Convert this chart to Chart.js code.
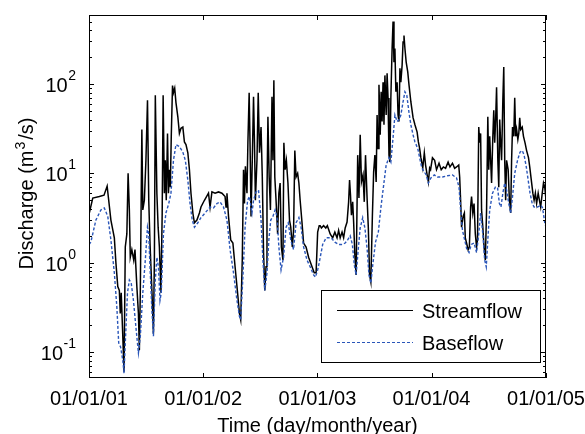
<!DOCTYPE html>
<html>
<head>
<meta charset="utf-8">
<script src="https://cdn.jsdelivr.net/npm/chart.js@4.4.1/dist/chart.umd.min.js"></script>
<style>
  html, body { margin: 0; padding: 0; background: #fff; }
  canvas { display: block; }
</style>
</head>
<body>
<canvas id="c" width="585" height="434"></canvas>
<script>
// ---- data (day since 01/01/01, discharge m3/s) ----
const streamflowPts = [
  [1,3.6],[12,5.3],[33,5.5],[48,5.7],[58,7.2],[63,5.0],[70,3.0],[81,1.9],[86,1.0],[92,0.54],[97,0.49],[100,0.27],
  [103,0.46],[108,0.15],[112,0.06],[116,1.5],[121,2.1],[125,10],[129,3.9],[132,1.15],[137,1.4],[143,1.07],[147,1.4],
  [153,0.54],[158,0.27],[161,0.105],[164,0.46],[169,31],[172,3.9],[177,5],[182,14],[187,66],[191,5],[195,1.66],
  [201,0.49],[206,0.16],[209,1.07],[212,75],[217,6],[221,2.5],[225,1.5],[230,0.46],[234,3.6],[237,75],[241,6],
  [244,14],[247,5],[251,28],[254,6],[257,11],[260,7],[263,26],[267,96],[270,80],[274,90],[278,62],[284,43],[289,28],
  [294,32],[300,33],[305,22.5],[310,21],[316,17],[321,11],[326,6],[332,3.6],[337,2.8],[345,3.0],[353,3.6],[358,4.2],
  [369,5.0],[382,6],[387,4.2],[393,6.2],[403,6],[414,6.2],[425,6],[435,5.5],[438,4.2],[441,6],[446,3.3],[453,1.8],
  [460,1.66],[467,0.9],[475,0.46],[481,0.27],[485,0.23],[490,1.07],[494,11],[497,4.6],[500,12],[505,6],[508,22],
  [512,80],[515,20],[518,3.3],[522,14],[526,72],[529,22],[532,5],[537,14],[541,80],[545,17],[550,33],[554,9.1],
  [558,1.3],[562,0.49],[566,0.9],[569,6],[572,43],[576,9.1],[580,3.9],[585,72],[588,14],[591,110],[594,9.1],[598,5],
  [603,2.1],[607,6],[611,7.8],[615,1.5],[620,1.07],[623,22],[627,11],[631,14],[636,7.8],[641,3.0],[645,2.5],[650,1.5],
  [654,2.3],[658,18],[662,9.1],[667,10],[671,7.8],[675,5],[681,2.8],[686,1.66],[694,1.5],[702,1.15],[713,0.9],
  [720,0.77],[726,0.77],[731,2.2],[736,2.6],[739,2.6],[743,2.45],[750,2.6],[757,2.45],[762,2.6],[771,2.1],[779,1.9],
  [786,2.2],[793,1.9],[798,2.3],[803,1.9],[809,2.2],[814,1.9],[819,2.45],[825,2.85],[830,4.8],[833,8.4],[836,5.7],
  [839,3.4],[843,4.8],[846,2.85],[850,1.2],[854,0.73],[859,16],[863,5.3],[867,27],[871,8],[876,9.6],[880,4.8],
  [884,16],[889,5.3],[893,2.45],[897,0.73],[901,0.61],[906,3.4],[910,10.4],[914,16],[918,8],[921,45],[924,19],
  [927,98],[931,27],[934,82],[937,38],[940,105],[943,35],[946,125],[950,45],[953,132],[956,70],[959,16],[962,13.4],
  [965,70],[969,250],[972,500],[975,176],[978,250],[981,82],[985,105],[988,45],[991,38],[994,150],[997,105],
  [1001,163],[1004,295],[1007,350],[1010,250],[1014,176],[1019,137],[1023,98],[1029,63],[1036,42],[1042,35],
  [1049,29],[1053,22.5],[1057,19],[1061,15],[1067,11.5],[1072,17],[1076,12.4],[1081,9.6],[1085,8],[1089,11.5],
  [1092,11],[1098,15],[1105,14],[1111,11],[1119,13],[1126,11],[1133,11.8],[1140,11.4],[1148,13.4],[1154,11.8],
  [1162,13],[1169,11.4],[1175,11.8],[1182,12.4],[1185,9.1],[1188,5],[1191,2.5],[1196,3.3],[1200,3.6],[1203,1.9],
  [1207,1.66],[1212,1.4],[1216,1.5],[1220,4.2],[1223,5.5],[1227,3.6],[1231,4.6],[1235,2.1],[1239,1.5],[1242,1.8],
  [1246,33],[1249,22],[1252,28],[1255,3.9],[1259,2.5],[1263,1.5],[1267,1.07],[1271,3.9],[1275,43],[1278,11],
  [1281,26],[1284,14],[1287,7.8],[1291,26],[1294,51],[1297,22],[1300,40],[1303,92],[1307,14],[1310,7],[1313,40],
  [1316,22],[1319,14],[1323,66],[1326,155],[1329,14],[1332,5],[1335,14],[1340,11],[1344,5],[1348,3.6],[1351,14],
  [1354,33],[1358,26],[1361,70],[1364,26],[1367,31],[1371,24],[1374,28],[1377,42],[1380,31],[1385,33],[1389,26],
  [1394,22],[1399,18],[1405,15],[1409,11.8],[1414,8.4],[1419,6],[1423,5],[1427,6],[1431,4.6],[1436,6],[1440,5],
  [1444,4.2],[1449,6],[1453,7.8],[1457,7],[1460,5.5]
];

const baseflowPts = [
  [0,1.6],[6,1.7],[22,3.0],[38,3.9],[49,4.1],[60,3.3],[70,1.8],[81,0.77],[89,0.32],[95,0.126],[101,0.114],[108,0.081],
  [112,0.058],[116,0.126],[123,0.46],[129,0.64],[135,0.59],[142,0.38],[150,0.19],[158,0.098],[164,0.15],[172,0.46],
  [180,1.07],[187,2.5],[191,2.1],[195,0.9],[201,0.3],[206,0.15],[212,0.64],[217,1.15],[222,0.9],[227,0.38],[231,0.46],
  [238,2.1],[246,3.6],[255,4.6],[262,6],[270,14],[278,21],[289,20],[300,17.3],[308,14],[316,8.4],[323,4.6],[330,3.0],
  [337,2.5],[348,2.8],[358,3.2],[371,3.6],[387,4.2],[398,4.1],[409,4.6],[419,4.8],[430,4.2],[441,3.0],[451,1.4],
  [462,0.77],[473,0.38],[481,0.25],[485,0.23],[492,0.69],[499,2.5],[507,5],[513,5.5],[521,3.6],[526,5],[534,6.2],
  [542,6.5],[550,3.0],[556,1.07],[562,0.49],[569,0.77],[575,1.8],[581,3.0],[588,3.3],[595,3.9],[601,3.3],[607,1.5],
  [614,0.83],[622,1.15],[630,2.5],[637,2.8],[645,1.8],[654,1.4],[662,2.8],[671,3.2],[678,2.5],[686,1.5],[697,1.07],
  [707,0.9],[718,0.73],[724,0.69],[731,0.83],[736,1.0],[747,1.6],[758,1.9],[774,1.9],[786,1.7],[798,1.6],[808,1.6],
  [819,1.66],[827,1.8],[835,2.0],[842,1.6],[848,0.95],[854,0.73],[861,1.45],[867,2.45],[875,3.2],[882,2.45],
  [889,1.45],[895,0.73],[901,0.59],[908,1.0],[916,1.7],[925,2.2],[933,4.1],[942,7.4],[950,12.4],[959,15],[965,13.4],
  [972,25],[978,45],[985,38],[991,40],[997,45],[1004,63],[1010,82],[1016,75],[1023,48],[1029,35],[1036,27],
  [1042,22.5],[1051,19],[1057,15],[1064,11.5],[1072,10.4],[1078,9.6],[1085,7.8],[1093,8.9],[1104,9.6],[1114,9.1],
  [1130,9.1],[1146,9.4],[1162,9.6],[1175,8.9],[1183,7],[1188,3.9],[1194,2.3],[1201,1.8],[1207,1.45],[1215,1.3],
  [1222,1.6],[1231,1.66],[1239,1.3],[1246,2.1],[1252,3.6],[1259,2.1],[1265,1.07],[1270,0.9],[1275,1.8],[1281,3.9],
  [1290,6],[1299,7],[1306,7],[1312,4.6],[1317,4.2],[1323,6],[1329,7.8],[1335,6.5],[1342,4.6],[1348,3.6],[1354,5.5],
  [1361,10],[1370,14],[1378,17.3],[1385,18],[1391,16],[1398,11.8],[1404,8.4],[1410,6],[1417,4.6],[1423,4.2],
  [1434,4.2],[1445,4.4],[1450,4.1],[1457,2.8],[1461,2.5]
];

const seriesNames = ['Streamflow', 'Baseflow'];
const xTickDays   = [0, 365, 730, 1095, 1461];
const xTickLabels = ['01/01/01', '01/01/02', '01/01/03', '01/01/04', '01/01/05'];
const yTickValues = [0.1, 1, 10, 100];
const yTickExps   = ['-1', '0', '1', '2'];
const yMinor      = [0.06, 0.07, 0.08, 0.09, 0.2, 0.3, 0.4, 0.5, 0.6, 0.7, 0.8, 0.9,
                     2, 3, 4, 5, 6, 7, 8, 9, 20, 30, 40, 50, 60, 70, 80, 90, 200, 300, 400, 500];
const xTitle = 'Time (day/month/year)';
const yTitle = ['Discharge (m', '3', '/s)'];

const FAM = '"Liberation Sans", Arial, Helvetica, sans-serif';

// axes box, inward ticks, labels and legend (MATLAB look)
const decor = {
  id: 'decor',
  afterDatasetsDraw(chart) {
    const { ctx, chartArea: a, scales: { x, y } } = chart;
    ctx.save();
    ctx.strokeStyle = '#000';
    ctx.lineWidth = 1;

    ctx.strokeRect(Math.round(a.left) + 0.5, Math.round(a.top) + 0.5,
                   Math.round(a.right - a.left) - 1, Math.round(a.bottom - a.top) - 1);

    ctx.beginPath();
    xTickDays.forEach(d => {
      const px = Math.round(x.getPixelForValue(d)) + 0.5;
      ctx.moveTo(px, a.bottom); ctx.lineTo(px, a.bottom - 5);
      ctx.moveTo(px, a.top);    ctx.lineTo(px, a.top + 5);
    });
    yTickValues.forEach(v => {
      const py = Math.round(y.getPixelForValue(v)) + 0.5;
      ctx.moveTo(a.left, py);  ctx.lineTo(a.left + 5, py);
      ctx.moveTo(a.right, py); ctx.lineTo(a.right - 5, py);
    });
    yMinor.forEach(v => {
      const py = Math.round(y.getPixelForValue(v)) + 0.5;
      ctx.moveTo(a.left, py);  ctx.lineTo(a.left + 3, py);
      ctx.moveTo(a.right, py); ctx.lineTo(a.right - 3, py);
    });
    ctx.stroke();

    ctx.fillStyle = '#000';
    ctx.textBaseline = 'alphabetic';

    // x tick labels + title
    ctx.font = '20px ' + FAM;
    ctx.textAlign = 'center';
    xTickDays.forEach((d, i) => ctx.fillText(xTickLabels[i], x.getPixelForValue(d), a.bottom + 27));
    ctx.fillText(xTitle, (a.left + a.right) / 2, a.bottom + 54);

    // y tick labels 10^k
    yTickValues.forEach((v, i) => {
      const py = y.getPixelForValue(v);
      const rx = a.left - 13;
      ctx.font = '14px ' + FAM;
      ctx.textAlign = 'right';
      const ew = ctx.measureText(yTickExps[i]).width;
      ctx.fillText(yTickExps[i], rx, py - 4);
      ctx.font = '20px ' + FAM;
      ctx.fillText('10', rx - ew - 0.5, py + 8);
    });

    // y title, rotated, with superscript
    ctx.save();
    ctx.translate(33, (a.top + a.bottom) / 2 - 3);
    ctx.rotate(-Math.PI / 2);
    ctx.textAlign = 'left';
    ctx.font = '20px ' + FAM;
    const w1 = ctx.measureText(yTitle[0]).width;
    const w3 = ctx.measureText(yTitle[2]).width;
    ctx.font = '14px ' + FAM;
    const w2 = ctx.measureText(yTitle[1]).width;
    const gapA = 1, gapB = 2;
    let tx = -(w1 + gapA + w2 + gapB + w3) / 2;
    ctx.font = '20px ' + FAM;
    ctx.fillText(yTitle[0], tx, 0);
    tx += w1 + gapA;
    ctx.font = '14px ' + FAM;
    ctx.fillText(yTitle[1], tx, -8);
    tx += w2 + gapB;
    ctx.font = '20px ' + FAM;
    ctx.fillText(yTitle[2], tx, 0);
    ctx.restore();

    // legend box
    const bw = 219, bh = 72;
    const bx = Math.round(a.right) - 6 - bw, by = Math.round(a.bottom) - 16 - bh;
    ctx.fillStyle = '#fff';
    ctx.fillRect(bx, by, bw, bh);
    ctx.strokeStyle = '#000';
    ctx.strokeRect(bx + 0.5, by + 0.5, bw, bh);
    ctx.font = '20px ' + FAM;
    ctx.textAlign = 'left';
    chart.data.datasets.forEach((ds, i) => {
      const ly = by + 20 + i * 32 + 0.5;
      ctx.save();
      ctx.strokeStyle = ds.borderColor;
      ctx.lineWidth = 1.2;
      ctx.setLineDash(ds.borderDash || []);
      ctx.beginPath();
      ctx.moveTo(bx + 16, ly);
      ctx.lineTo(bx + 92, ly);
      ctx.stroke();
      ctx.restore();
      ctx.fillStyle = '#000';
      ctx.fillText(ds.label, bx + 101, ly + 7);
    });
    ctx.restore();
  }
};

new Chart(document.getElementById('c'), {
  type: 'line',
  data: {
    datasets: [
      {
        label: seriesNames[0],
        data: streamflowPts.map(p => ({ x: p[0], y: p[1] })),
        borderColor: '#000', borderWidth: 1.5, pointRadius: 0, tension: 0, fill: false, order: 2
      },
      {
        label: seriesNames[1],
        data: baseflowPts.map(p => ({ x: p[0], y: p[1] })),
        borderColor: '#2a56b9', borderWidth: 1.4, borderDash: [3, 2], pointRadius: 0, tension: 0, fill: false, order: 1
      }
    ]
  },
  options: {
    responsive: false, animation: false, devicePixelRatio: 1,
    layout: { padding: { left: 89, right: 39, top: 15, bottom: 56 } },
    plugins: { legend: { display: false }, tooltip: { enabled: false } },
    scales: {
      x: { type: 'linear', min: 0, max: 1461, bounds: 'data', display: false },
      y: { type: 'logarithmic', min: 0.0512, max: 593, bounds: 'data', display: false }
    }
  },
  plugins: [decor]
});
</script>
</body>
</html>
